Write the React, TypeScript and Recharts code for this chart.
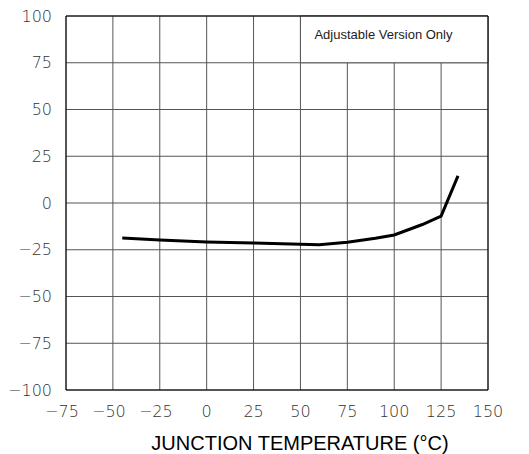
import * as React from 'react';
import {
  LineChart,
  Line,
  XAxis,
  YAxis,
  CartesianGrid,
  ReferenceArea,
} from 'recharts';

// junction temperature (°C) vs. output change
const temps = [-45, -35, -25, 0, 25, 50, 60, 75, 90, 100, 115, 125, 134];
const values = [-18.7, -19.2, -19.8, -20.8, -21.4, -22, -22.3, -21, -18.8, -17.1, -11.5, -7, 14.5];
const xTicks = [-75, -50, -25, 0, 25, 50, 75, 100, 125, 150];
const yTicks = [-100, -75, -50, -25, 0, 25, 50, 75, 100];

const chartData = temps.map((t, i) => ({ temp: t, value: values[i] }));

const fmt = (v: number) => (v < 0 ? `\u2212${Math.abs(v)}` : `${v}`);

const tickFont = { fill: '#333', fontSize: 16, fontFamily: 'DejaVu Sans', fontWeight: 300 };

function XTick(props: any) {
  const { x, y, payload } = props;
  const v = payload.value as number;
  return (
    <text x={v < 0 ? x - 4 : x} y={y + 6} textAnchor="middle" dominantBaseline="central" {...tickFont}>
      {fmt(v)}
    </text>
  );
}

function AxisTitle(props: any) {
  const vb = props.viewBox;
  return (
    <text
      x={vb.x + vb.width / 2 + 23}
      y={450}
      textAnchor="middle"
      fontSize={20}
      fontFamily="Liberation Sans"
      fill="#000"
    >
      JUNCTION TEMPERATURE (°C)
    </text>
  );
}

export default function App() {
  return (
    <div style={{ position: 'absolute', left: 0, top: 0, width: 529, height: 454, background: '#fff' }}>
      <LineChart
        width={529}
        height={454}
        data={chartData}
        margin={{ top: 16, right: 41, left: 6, bottom: 0 }}
      >
        <CartesianGrid stroke="#555" strokeWidth={1} />
        <XAxis
          dataKey="temp"
          type="number"
          domain={[-75, 150]}
          ticks={xTicks}
          axisLine={false}
          tickLine={false}
          tickMargin={9}
          tick={<XTick />}
          height={64}
          interval={0}
          label={<AxisTitle />}
        />
        <YAxis
          type="number"
          domain={[-100, 100]}
          ticks={yTicks}
          tickFormatter={fmt}
          axisLine={false}
          tickLine={false}
          tickMargin={8}
          tick={tickFont}
          width={60}
          interval={0}
        />
        <ReferenceArea
          x1={50}
          x2={150}
          y1={75}
          y2={100}
          fill="#fff"
          fillOpacity={1}
          stroke="#555"
          label={(props: any) => {
            const vb = props.viewBox;
            return (
              <text
                x={vb.x + 14}
                y={vb.y + 23}
                fontSize={13}
                fontFamily="Liberation Sans"
                fill="#222"
              >
                Adjustable Version Only
              </text>
            );
          }}
        />
        <ReferenceArea x1={-75} x2={150} y1={-100} y2={100} fill="none" stroke="#000" />
        <Line
          type="linear"
          dataKey="value"
          stroke="#000"
          strokeWidth={3}
          dot={false}
          isAnimationActive={false}
        />
      </LineChart>
    </div>
  );
}
